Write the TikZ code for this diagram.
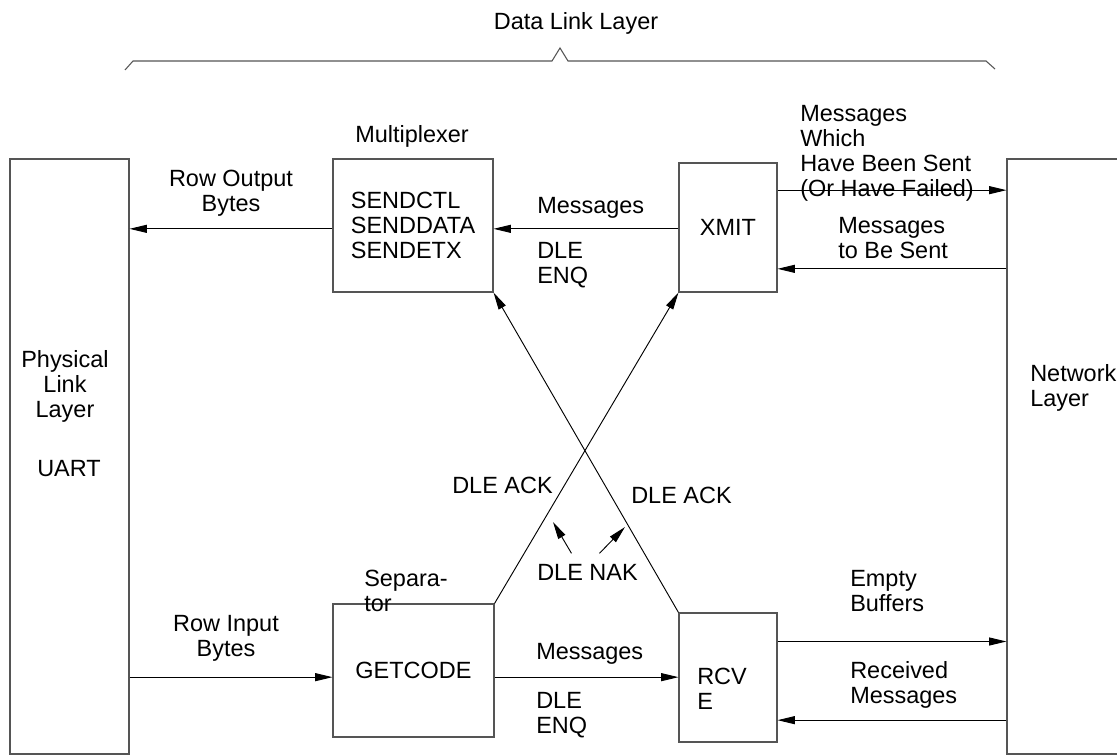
\documentclass[tikz,border=0pt]{standalone}
\usepackage{fontspec}
\setmainfont{Liberation Sans}
\usetikzlibrary{arrows.meta}

\begin{document}
\begin{tikzpicture}[
    x=0.75pt, y=-0.75pt,
    font=\fontsize{17.6}{18.75}\selectfont,
    box/.style={rectangle, draw=lineg, line width=0.8pt, inner sep=0pt, align=left},
    lbl/.style={inner sep=0pt, anchor=north west, align=left},
    arr/.style={draw=black, line width=0.7pt, -{Triangle[length=13pt, width=6pt]}}
]
\definecolor{lineg}{RGB}{85,85,85}

\useasboundingbox (0,0) rectangle (1117,755);

\node[box, minimum width=89.25pt, minimum height=446.25pt] (phys) at (69.5,456.5) {};
\node[box, minimum width=92.25pt, minimum height=446.25pt] (net) at (1068.5,456.5) {};
\node[box, minimum width=120pt, minimum height=99.75pt] (mux) at (413,225.5) {SENDCTL\\SENDDATA\\SENDETX};
\node[box, minimum width=73.5pt, minimum height=96.75pt] (xmit) at (728,227.5) {XMIT};
\node[box, minimum width=120.75pt, minimum height=99.75pt] (getcode) at (413.5,670.5) {GETCODE};
\node[box, minimum width=73.5pt, minimum height=96.75pt] (rcve) at (728,677.5) {};

\node[lbl, anchor=north] (dll) at (576,12) {Data Link Layer};
\draw[lineg, line width=0.8pt] (125,70) -- (133,61) -- (552,61) -- (560,48) -- (568,61) -- (986,61) -- (995,69);

\node[lbl, anchor=north] (muxname) at (412,125) {Multiplexer};
\node[lbl, align=center, anchor=north] (rowout) at (231,170) {Row Output\\Bytes};
\node[lbl] (msgtop) at (537,197) {Messages};
\node[lbl] (enqtop) at (537,242) {DLE\\ENQ};
\node[lbl] (sent) at (800,105) {Messages\\Which\\Have Been Sent\\(Or Have Failed)};
\node[lbl] (tosend) at (838,217) {Messages\\to Be Sent};
\node[lbl, align=center, anchor=north] (physname) at (65,350) {Physical\\Link\\Layer};
\node[lbl, anchor=north] (uart) at (69,460) {UART};
\node[lbl] (netname) at (1030,364) {Network\\Layer};
\node[lbl] (sep) at (364,570) {Separa-\\tor};
\node[lbl, align=center, anchor=north] (rowin) at (226,615) {Row Input\\Bytes};
\node[lbl] (msgbot) at (536,643) {Messages};
\node[lbl] (enqbot) at (536,692) {DLE\\ENQ};
\node[lbl] (rcvename) at (697,668) {RCV\\E};
\node[lbl] (ackl) at (452,477) {DLE ACK};
\node[lbl] (ackr) at (631,487) {DLE ACK};
\node[lbl] (nak) at (537,564) {DLE NAK};
\node[lbl] (empty) at (850,570) {Empty\\Buffers};
\node[lbl] (recv) at (850,661) {Received\\Messages};

\draw[arr] ([yshift=-2.5pt]mux.west) -- ([yshift=-2.5pt]mux.west -| phys.east);
\draw[arr] ([yshift=-1pt]xmit.west) -- ([yshift=-1pt]xmit.west -| mux.east);
\draw[arr] ([yshift=28pt]xmit.east) -- ([yshift=28pt]xmit.east -| net.west);
\draw[arr] ([yshift=-31pt]net.west |- xmit.east) -- ([yshift=-31pt]xmit.east);
\draw[arr] ([yshift=-5pt]phys.east |- getcode.west) -- ([yshift=-5pt]getcode.west);
\draw[arr] ([yshift=-5pt]getcode.east) -- ([yshift=-5pt]getcode.east -| rcve.west);
\draw[arr] ([yshift=27pt]rcve.east) -- ([yshift=27pt]rcve.east -| net.west);
\draw[arr] ([yshift=-32pt]net.west |- rcve.east) -- ([yshift=-32pt]rcve.east);
\draw[arr] (getcode.north east) -- (xmit.south west);
\draw[arr] (rcve.north west) -- (mux.south east);

\coordinate (nakl) at (553,522);
\coordinate (nakr) at (625,527);
\draw[arr] ([xshift=-12pt,yshift=8pt]nak.north) -- (nakl);
\draw[arr] ([xshift=9pt,yshift=8pt]nak.north) -- (nakr);
\end{tikzpicture}
\end{document}
